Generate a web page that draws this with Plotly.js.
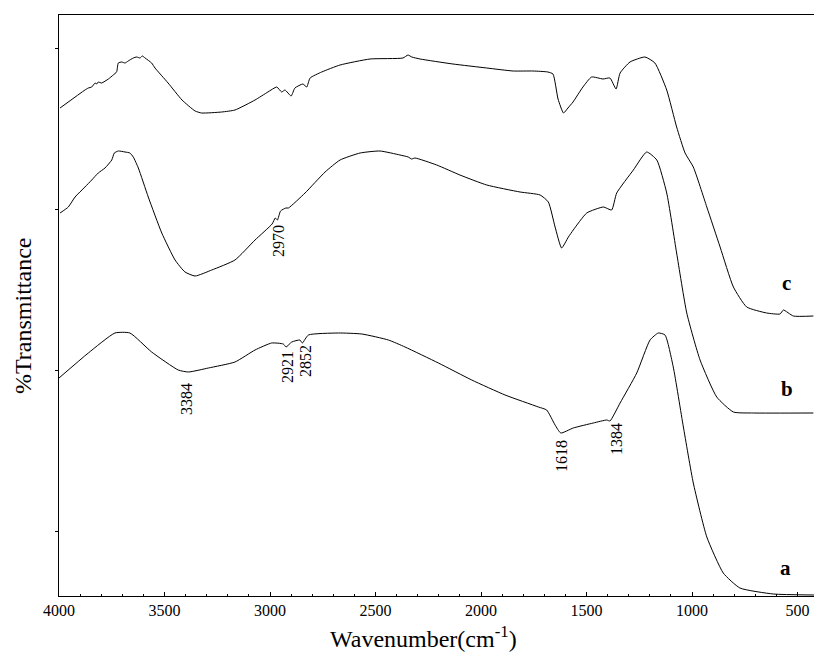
<!DOCTYPE html>
<html>
<head>
<meta charset="utf-8">
<script src="https://cdn.plot.ly/plotly-3.0.1.min.js"></script>
<style>html,body{margin:0;padding:0;background:#fff;}#chart{width:814px;height:659px;}</style>
</head>
<body>
<div id="chart"></div>
<script>
// Wavenumber (cm-1) and transmittance (arbitrary, offset) for each spectrum
const waveC = [3995,3877,3861,3845,3829,3821,3814,3798,3766,3743,3727,3719,3703,3687,3672,3648,3632,3616,3605,3592,3561,3545,3483,3417,3355,3324,3229,3166,3071,3010,2968,2945,2929,2900,2882,2844,2826,2810,2755,2668,2526,2370,2346,2328,2289,2133,1973,1848,1754,1683,1659,1635,1609,1588,1564,1517,1476,1422,1389,1360,1341,1294,1223,1176,1120,1073,1033,994,930,867,804,741,646,583,567,520,425];
const transC = [488,506,508,509,513,512,514,513,517,521,524,533,534,533,535,538,539,538,540,538,533,528,513,496,485,483,484,486,496,504,509,504,506,500,508,512,509,518,524,531,537,538,541,539,537,532,528,525,525,524,522,497,483,488,494,509,519,517,518,507,523,534,539,533,506,469,443,429,389,349,309,289,283,282,286,280,280];

const waveB = [3995,3956,3924,3877,3845,3814,3782,3750,3738,3719,3687,3664,3648,3624,3577,3513,3450,3403,3355,3276,3166,3071,2990,2975,2965,2950,2925,2913,2834,2739,2668,2573,2479,2384,2345,2329,2313,2210,2100,1973,1815,1720,1681,1649,1618,1586,1563,1499,1420,1381,1357,1278,1215,1167,1120,1073,1025,962,883,804,709,425];
const transB = [383,389,399,409,416,423,428,436,443,445,444,443,439,428,399,363,336,324,320,326,336,356,372,378,376,385,388,388,403,424,436,443,445,441,439,437,438,431,421,411,404,401,394,369,348,359,366,383,389,386,403,426,444,436,403,343,283,236,199,184,183,183];

const waveA = [4000,3861,3735,3664,3561,3435,3387,3292,3166,3071,2992,2937,2924,2897,2858,2847,2818,2676,2565,2439,2360,2202,2044,1886,1728,1689,1649,1622,1563,1468,1404,1389,1341,1262,1199,1160,1128,1089,1041,994,930,852,773,615,422];
const transA = [218,243,263,263,244,226,224,228,234,246,253,252,249,254,256,253,261,263,262,256,249,233,216,201,189,186,171,163,168,173,176,175,193,223,256,263,261,229,169,113,59,23,8,2,1];

// Peak labels
const peakText = ["2970","3384","2921","2852","1618","1384"];
const peakX = [2962,3398,2919,2834,1621,1360];
const peakY = [355,197,229,235,140,157];

// Curve letters
const curveText = ["c","b","a"];
const curveX = [550,550,559];
const curveY = [313,207,28];

const serif = "'Liberation Serif', 'Times New Roman', serif";
const lineStyle = {color:'#000', width:1, shape:'spline', smoothing:0.5};

const traces = [
  {x: waveC, y: transC, mode:'lines', line: lineStyle, hoverinfo:'skip'},
  {x: waveB, y: transB, mode:'lines', line: lineStyle, hoverinfo:'skip'},
  {x: waveA, y: transA, mode:'lines', line: lineStyle, hoverinfo:'skip'}
];

const annotations = [];
peakText.forEach((t,i)=>annotations.push({x:peakX[i], y:peakY[i], xref:'x', yref:'y', text:t, showarrow:false, textangle:-90, font:{family:serif, size:16, color:'#000'}}));
curveText.forEach((t,i)=>annotations.push({x:curveX[i], y:curveY[i], xref:'x', yref:'y', text:'<b>'+t+'</b>', showarrow:false, font:{family:serif, size:21, color:'#000'}}));
annotations.push({x:0.483, y:-0.0706, xref:'paper', yref:'paper', text:'Wavenumber(cm<sup>-1</sup>)', showarrow:false, xanchor:'center', yanchor:'middle', font:{family:serif, size:24, color:'#000'}});
annotations.push({x:-0.0477, y:0.482, xref:'paper', yref:'paper', text:'%Transmittance', showarrow:false, textangle:-90, xanchor:'center', yanchor:'middle', font:{family:serif, size:24, color:'#000'}});

const layout = {
  width:814, height:659,
  margin:{l:59, r:0, t:15, b:63},
  paper_bgcolor:'#fff', plot_bgcolor:'#fff',
  showlegend:false,
  xaxis:{
    range:[4000,422], tick0:0, dtick:500,
    ticks:'inside', ticklen:4, tickcolor:'#000', tickwidth:1,
    minor:{dtick:100, ticks:'inside', ticklen:2, tickcolor:'#000'},
    showline:true, linecolor:'#000', linewidth:1, mirror:true,
    showgrid:false, zeroline:false,
    tickfont:{family:serif, size:16, color:'#000'}
  },
  yaxis:{
    range:[0,581], tick0:65, dtick:161,
    ticks:'outside', ticklen:3, tickcolor:'#000',
    showticklabels:false,
    showline:true, linecolor:'#000', linewidth:1,
    showgrid:false, zeroline:false
  },
  annotations: annotations
};

Plotly.newPlot('chart', traces, layout, {staticPlot:true, displayModeBar:false});
</script>
</body>
</html>
